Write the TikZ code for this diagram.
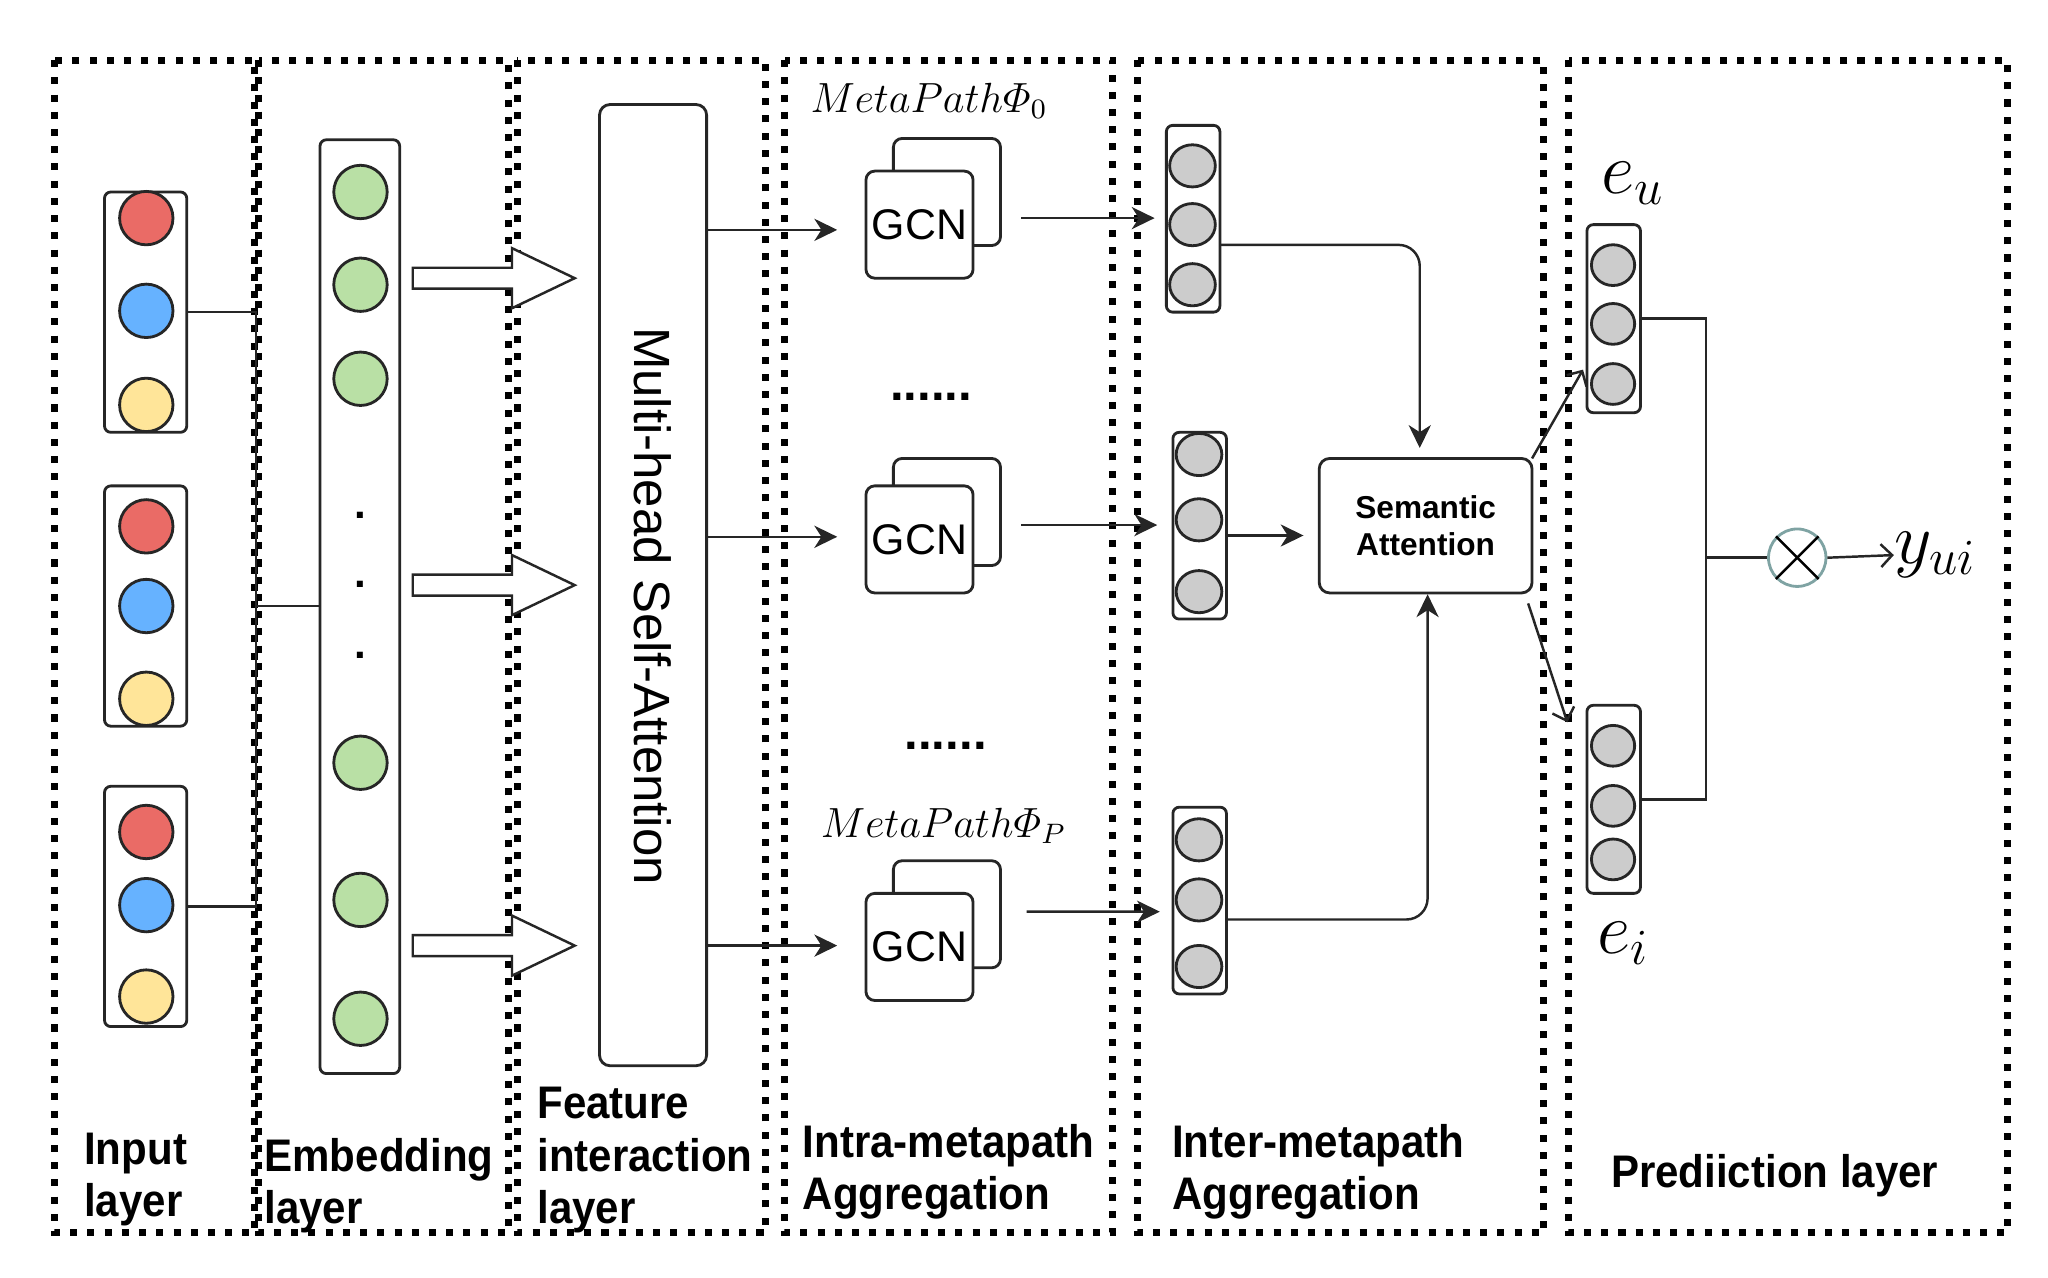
\documentclass[tikz,border=0pt]{standalone}
\usepackage{amsmath}
\usepackage{fontspec}
\setmainfont{Liberation Sans}
\newfontfamily\lblfont{Liberation Sans Bold}[FakeStretch=0.92]
\usetikzlibrary{arrows.meta,calc,shapes.geometric}
\def\un{0.3716pt}
\definecolor{cred}{HTML}{EA6B66}
\definecolor{cblue}{HTML}{66B2FF}
\definecolor{cyellow}{HTML}{FFE599}
\definecolor{cgreen}{HTML}{B9E0A5}
\definecolor{cgray}{HTML}{CCCCCC}
\definecolor{cline}{HTML}{262626}
\definecolor{cteal}{HTML}{7FA3A3}
\begin{document}
\begin{tikzpicture}[x=0.01306cm, y=-0.01306cm,
  sz/.style 2 args={minimum width={#1*\un}, minimum height={#2*\un}},
  panel/.style={draw=black, line width=2pt, dash pattern=on 2pt off 2.9pt},
  vbox/.style={draw=cline, line width=0.8pt, rounded corners=1.8pt, inner sep=0pt, outer sep=0pt, fill=white},
  gbox/.style={draw=cline, line width=0.8pt, rounded corners=2.5pt, inner sep=0pt, outer sep=0pt, fill=white,
    font=\fontsize{12.2}{14}\selectfont},
  dotc/.style={circle, draw=cline, line width=0.8pt, inner sep=0pt, minimum size=15.2pt},
  gdot/.style={ellipse, draw=cline, line width=0.8pt, fill=cgray, inner sep=0pt, minimum width=13pt, minimum height=12pt},
  conn/.style={draw=cline, line width=0.7pt},
  arr/.style={conn, -{Stealth[length=6.5pt,width=6.3pt,inset=2pt]}},
  oarr/.style={conn, -{Straight Barb[length=3.2pt,width=6.5pt]}},
  hollow/.style={draw=cline, line width=0.7pt, fill=white},
  lbl/.style={font=\lblfont\fontsize{13}{14.9}\selectfont, align=left, inner sep=0pt, anchor=north west},
  mlbl/.style={font=\fontsize{12}{14}\selectfont, inner sep=0pt, anchor=base west},
  vlbl/.style={font=\fontsize{20}{22}\selectfont, inner sep=0pt}
]
\useasboundingbox (0,0) rectangle (1568,978);

% ---- panels ----
\draw[panel] (42,46) rectangle (195,944);
\draw[panel] (198,46) rectangle (389,944);
\draw[panel] (396,46) rectangle (586,944);
\draw[panel] (601,46) rectangle (852,944);
\draw[panel] (871,46) rectangle (1182,944);
\draw[panel] (1201,46) rectangle (1537,944);

% ---- input layer ----
\node[vbox, sz={63}{184}] (in1) at (111.5,239) {};
\node[vbox, sz={63}{184}] (in2) at (111.5,464) {};
\node[vbox, sz={63}{184}] (in3) at (111.5,694) {};
\node[dotc, fill=cred]    (in1a) at (112,167) {};
\node[dotc, fill=cblue]   (in1b) at (112,238) {};
\node[dotc, fill=cyellow] (in1c) at (112,310) {};
\node[dotc, fill=cred]    (in2a) at (112,403) {};
\node[dotc, fill=cblue]   (in2b) at (112,464) {};
\node[dotc, fill=cyellow] (in2c) at (112,535) {};
\node[dotc, fill=cred]    (in3a) at (112,637) {};
\node[dotc, fill=cblue]   (in3b) at (112,693) {};
\node[dotc, fill=cyellow] (in3c) at (112,763) {};

% ---- embedding layer ----
\node[vbox, sz={61}{715}] (emb) at (275.5,464.5) {};
\foreach \yy [count=\i] in {147,218,290,584,689,780}
  \node[dotc, fill=cgreen] (e\i) at (276,\yy) {};
\foreach \yy [count=\i] in {397,450,504}
  \node[font=\bfseries\fontsize{12}{12}\selectfont, anchor=base, inner sep=0pt] (edot\i) at (276,\yy) {.};

\coordinate (busx) at (196,0);
\draw[conn] (in1.east) -- (in1.east -| busx) -- (in3.east -| busx) -- (in3.east);
\draw[conn] (in2.east -| busx) -- (emb.west |- in2.east);

% ---- feature interaction ----
\node[vbox, rounded corners=3pt, sz={82}{736}] (mhsa) at (500,448) {};
\node[rotate=-90, font=\fontsize{14.5}{17}\selectfont, inner sep=0pt] (mhsat) at (500,464) {Multi-head Self-Attention};

\foreach \yy in {213,448,724}
  \draw[hollow] (316,\yy-8) -- (392,\yy-8) -- (392,\yy-23) -- (440,\yy) -- (392,\yy+23) -- (392,\yy+8) -- (316,\yy+8) -- cycle;

% ---- intra-metapath ----
\node[gbox, sz={82}{82}] (g1b) at (725,147) {};
\node[gbox, sz={82}{82}] (g1) at (704,172) {GCN};
\node[gbox, sz={82}{82}] (g2b) at (725,392) {};
\node[gbox, sz={82}{82}] (g2) at (704,413) {GCN};
\node[gbox, sz={82}{82}] (g3b) at (725,700) {};
\node[gbox, sz={82}{82}] (g3) at (704,725) {GCN};

\node[mlbl] (mp0) at (620,86) {$MetaPath\varPhi_0$};
\node[mlbl] (mpp) at (628,641) {$MetaPath\varPhi_P$};
\node[font=\bfseries\fontsize{14}{14}\selectfont, anchor=base, inner sep=0pt] (dd1) at (713,307) {......};
\node[font=\bfseries\fontsize{14}{14}\selectfont, anchor=base, inner sep=0pt] (dd2) at (724,574) {......};

\draw[arr] (mhsa.east |- 0,176) -- ($(g1.west)+(-22,4)$);
\draw[arr] (mhsa.east |- 0,411) -- ($(g2.west)+(-22,-2)$);
\draw[arr] (mhsa.east |- 0,724) -- ($(g3.west)+(-22,-1)$);

% ---- inter-metapath ----
\node[vbox, sz={41}{143}] (iv1) at (913.5,167.5) {};
\node[gdot] at (913,127) {};
\node[gdot] at (913,172) {};
\node[gdot] at (913,218) {};
\node[vbox, sz={41}{143}] (iv2) at (918.5,402.5) {};
\node[gdot] at (918,348) {};
\node[gdot] at (918,398) {};
\node[gdot] at (918,453) {};
\node[vbox, sz={41}{143}] (iv3) at (918.5,689.5) {};
\node[gdot] at (918,643) {};
\node[gdot] at (918,689) {};
\node[gdot] at (918,740) {};

\draw[arr] ($(g1.east)+(37,-5)$) -- ($(iv1.west)+(-9,-0.5)$);
\draw[arr] ($(g2.east)+(37,-11)$) -- ($(iv2.west)+(-12,-0.5)$);
\draw[arr] ($(g3.east)+(41,-27)$) -- ($(iv3.west)+(-10,8.5)$);

\node[vbox, rounded corners=3pt, sz={163}{103}, align=center,
      font=\bfseries\fontsize{9}{10.8}\selectfont] (sa) at (1091.5,402.5) {Semantic\\Attention};

\draw[arr, rounded corners=6pt] ($(iv1.east)+(0,20)$) -| ($(sa.north)+(-4.5,-8)$);
\draw[arr] ($(iv2.east)+(0,7.5)$) -- ($(sa.west)+(-12,7.5)$);
\draw[arr, rounded corners=6pt] ($(iv3.east)+(0,14.5)$) -| ($(sa.south)+(1.5,1)$);

% ---- prediction ----
\node[vbox, sz={41}{144}] (eu) at (1235.5,244) {};
\node[gdot, minimum width=12.3pt, minimum height=11.6pt] at (1235,203) {};
\node[gdot, minimum width=12.3pt, minimum height=11.6pt] at (1235,248) {};
\node[gdot, minimum width=12.3pt, minimum height=11.6pt] at (1235,294) {};
\node[vbox, sz={41}{144}] (ei) at (1235.5,612) {};
\node[gdot, minimum width=12.3pt, minimum height=11.6pt] at (1235,571) {};
\node[gdot, minimum width=12.3pt, minimum height=11.6pt] at (1235,617) {};
\node[gdot, minimum width=12.3pt, minimum height=11.6pt] at (1235,658) {};
\node[vlbl] (eul) at (1250,140) {$e_u$};
\node[vlbl] (eil) at (1243,722) {$e_i$};

\draw[oarr] (sa.north east) -- ($(eu.south west)+(-3,-33)$);
\draw[oarr] ($(sa.south east)+(-3,8)$) -- ($(ei.north west)+(-15,13)$);

\node[circle, draw=cteal, line width=0.8pt, fill=white, minimum size={44*\un}, inner sep=0pt] (ox) at (1376,427) {};
\draw[draw=black, line width=0.7pt] (ox.north west) -- (ox.south east) (ox.north east) -- (ox.south west);

\coordinate (pbus) at (1306,0);
\draw[conn] (eu.east) -- (eu.east -| pbus) -- (ei.east -| pbus) -- (ei.east);
\draw[conn] (ox.west -| pbus) -- (ox.west);

\node[vlbl, anchor=west] (yui) at (1450,425) {$y_{ui}$};
\draw[oarr] (ox.east) -- (yui.west);

% ---- layer labels ----
\node[lbl] (l1) at (64,867) {Input\\layer};
\node[lbl] (l2) at (202,871) {Embedding\\layer};
\node[lbl] (l3) at (411,832) {Feature\\interaction\\layer};
\node[lbl] (l4) at (614,860) {Intra-metapath\\Aggregation};
\node[lbl] (l5) at (897,860) {Inter-metapath\\Aggregation};
\node[lbl] (l6) at (1233,883) {Prediiction layer};
\end{tikzpicture}
\end{document}
